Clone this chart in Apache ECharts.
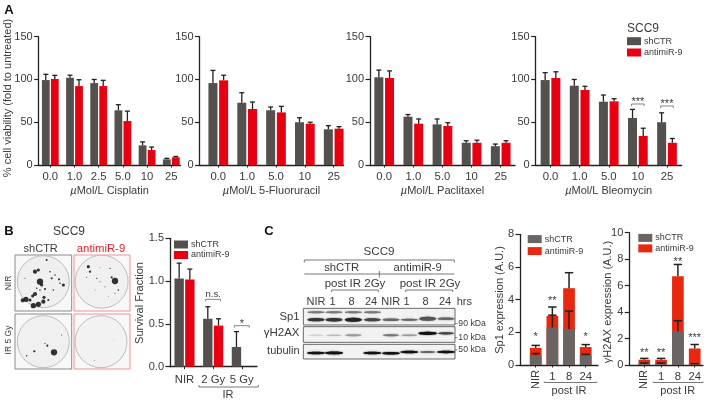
<!DOCTYPE html>
<html><head><meta charset="utf-8">
<style>html,body{margin:0;padding:0;background:#fff}#c{width:709px;height:402px}</style>
<script src="https://cdn.jsdelivr.net/npm/echarts@6/dist/echarts.min.js"></script>
</head><body><div id="c"></div>
<script>
// ---------- data ----------
const cisCats = ['0.0','1.0','2.5','5.0','10','25'];
const cisGray = [99.3,102,95.8,64,23,6.6];
const cisGrayTop = [106,105,100,70.5,27,7.8];
const cisRed = [100.5,92.3,92.3,51.4,17.5,9];
const cisRedTop = [104.8,99.7,99,63,21,10];

const fluCats = ['0.0','1.0','5.0','10','25'];
const fluGray = [95.8,72.8,64,50,41.7];
const fluGrayTop = [110.6,84.5,67.8,55.3,46];
const fluRed = [99,65.5,61.5,48.3,42.5];
const fluRedTop = [105,73.6,68.6,50,44.8];

const pacCats = ['0.0','1.0','5.0','10','25'];
const pacGray = [102.5,56.5,47.5,26,22];
const pacGrayTop = [111,59,53.8,28.4,24.5];
const pacRed = [101.7,48.3,45.6,26,26];
const pacRedTop = [110,53.8,49.5,29,28.4];

const bleCats = ['0.0','1.0','5.0','10','25'];
const bleGray = [99.3,92.7,74,55,50];
const bleGrayTop = [108,100,81.8,65,61];
const bleRed = [101.7,87.7,74.4,34,26];
const bleRedTop = [109,92,77.5,43,31];
const bleSig = [[3,71.3,'***'],[4,69,'***']];

const sfCats = ['NIR','2 Gy','5 Gy'];
const sfGray = [1.03,0.56,0.23];
const sfGrayTop = [1.21,0.70,0.41];
const sfRed = [1.02,0.48,null];
const sfRedTop = [1.14,0.56,null];
const sfSig = [[1,0.787,'n.s.'],[2,0.479,'*']];

const wbCats = ['NIR','1','8','24'];
const sp1Gray = [0.6,2.3,2.2,0.6];
const sp1GrayTop = [0.7,3.05,3.3,0.65];
const sp1Red = [1.05,3.0,4.7,1.1];
const sp1RedTop = [1.2,3.55,5.65,1.25];
const sp1Stars = [[0,1.8,'*'],[1,4.04,'**'],[3,1.8,'*']];
const h2Gray = [0.1,0.1,2.55,0.05];
const h2GrayTop = [0.15,0.15,3.35,0.1];
const h2Red = [0.4,0.4,6.7,1.25];
const h2RedTop = [0.5,0.5,7.6,1.55];
const h2Stars = [[0,1.06,'**'],[1,1.06,'**'],[2,7.93,'**'],[3,2.14,'***']];

// ---------- style ----------
const FONT = '"Liberation Sans", Arial, sans-serif';
const GRAY = '#54504d', RED = '#e60012', GRAY2 = '#6a6562', RED2 = '#e8290f';
const INK = '#3a3a3a', AX = '#222';

const grids=[], xAxes=[], yAxes=[], series=[];

function errSeries(i, means, tops, off, cap, w){
  return {type:'custom', name:'err', coordinateSystem:'cartesian2d', xAxisIndex:i, yAxisIndex:i, z:6, silent:true,
    data: means.map((m,k)=>[k,m,tops[k]]).filter(d=>d[1]!=null),
    encode:{x:0,y:1},
    renderItem(p,api){
      const a=api.coord([api.value(0),api.value(1)]), b=api.coord([api.value(0),api.value(2)]);
      const x=a[0]+off, st={stroke:AX,lineWidth:w,fill:'none'};
      return {type:'group',children:[
        {type:'line',shape:{x1:x,y1:a[1],x2:x,y2:b[1]},style:st},
        {type:'line',shape:{x1:x-cap,y1:b[1],x2:x+cap,y2:b[1]},style:st}]};
    }};
}
function sigSeries(i, items, half, size){
  return {type:'custom', name:'sig', coordinateSystem:'cartesian2d', xAxisIndex:i, yAxisIndex:i, z:7, silent:true,
    data: items, encode:{x:0,y:1},
    renderItem(p,api){
      const idx=p.dataIndex, a=api.coord([items[idx][0],items[idx][1]]), t=items[idx][2], ns=t==='n.s.';
      const kids=[{type:'text',style:{x:a[0],y:a[1]+(half?(ns?-5:-2):1.5),text:t,font:(ns?9.5:size)+'px '+FONT,fill:INK,align:'center',verticalAlign:'middle'}}];
      if(half) kids.push({type:'polyline',shape:{points:[[a[0]-half,a[1]+2],[a[0]-half,a[1]],[a[0]+half,a[1]],[a[0]+half,a[1]+2]]},style:{stroke:'#666',lineWidth:.8,fill:'none'}});
      return {type:'group',children:kids};
    }};
}
function panel(o){
  const i=grids.length, n=o.cats.length;
  const sp=(o.last-o.first)/(n-1);
  grids.push({left:o.left,top:o.top,width:o.right-o.left,height:o.bottom-o.top});
  const vals=o.cats.map((c,k)=>k);
  xAxes.push({type:'value',gridIndex:i,min:-(o.first-o.left)/sp,max:(n-1)+(o.right-o.last)/sp,
    splitLine:{show:false},
    axisLine:{show:true,onZero:false,lineStyle:{color:AX,width:1.3}},
    axisTick:{show:true,length:2.5,customValues:vals,lineStyle:{color:AX,width:1}},
    axisLabel:{show:true,customValues:vals,formatter:v=>o.hideFirst&&v===0?'':o.cats[v],color:INK,fontSize:11.3,fontFamily:FONT,margin:o.xMargin||6,hideOverlap:false,showMinLabel:true,showMaxLabel:true},
    name:o.xName||'',nameLocation:'middle',nameGap:20,
    nameTextStyle:{color:INK,fontSize:11,fontFamily:FONT,rich:{i:{fontStyle:'italic',fontSize:11,fontFamily:FONT,color:INK},n:{fontSize:11,fontFamily:FONT,color:INK}}}});
  yAxes.push({type:'value',gridIndex:i,min:0,max:o.max,interval:o.interval,
    splitLine:{show:false},
    axisLine:{show:true,onZero:false,lineStyle:{color:AX,width:1.3}},
    axisTick:{show:true,length:4.5,lineStyle:{color:AX,width:1.2}},
    axisLabel:{color:INK,fontSize:11,fontFamily:FONT,margin:6,formatter:o.yFmt}});
  const bw=o.barW, gap=o.gap;
  const mk=(name,vals,color,extra)=>Object.assign({type:'bar',name,xAxisIndex:i,yAxisIndex:i,barWidth:bw,
    data:vals.map((v,k)=>[k,v]),itemStyle:{color},silent:true,z:2},extra||{});
  if(o.overlay){
    series.push(mk('antimiR-9',o.red,o.cr,{barGap:'-100%'}));
    series.push(mk('shCTR',o.gray,o.cg,{barGap:'-100%',z:3}));
    series.push(errSeries(i,o.red,o.redTop,0,o.cap,o.errW));
    series.push(errSeries(i,o.gray,o.grayTop,0,o.cap,o.errW));
  }else{
    const g=(gap/bw*100)+'%', off=(bw+gap)/2;
    series.push(mk('shCTR',o.gray,o.cg,{barGap:g}));
    series.push(mk('antimiR-9',o.red,o.cr,{barGap:g}));
    series.push(errSeries(i,o.gray,o.grayTop,-off,o.cap,o.errW));
    series.push(errSeries(i,o.red,o.redTop,off,o.cap,o.errW));
  }
  if(o.sig) series.push(sigSeries(i,o.sig,o.sigHalf,o.sigSize||11));
}
const A={top:36.7,bottom:165,max:150,interval:50,barW:7.8,gap:1.2,cap:2.5,errW:1.3,cg:GRAY,cr:RED};
panel(Object.assign({},A,{left:38.7,right:180.5,first:50.3,last:171.3,cats:cisCats,gray:cisGray,grayTop:cisGrayTop,red:cisRed,redTop:cisRedTop,xName:'{i|µ}{n|Mol/L Cisplatin}'}));
panel(Object.assign({},A,{left:199.5,right:343.5,first:218.3,last:333.7,cats:fluCats,gray:fluGray,grayTop:fluGrayTop,red:fluRed,redTop:fluRedTop,barW:9,gap:1.7,xName:'{i|µ}{n|Mol/L 5-Fluoruracil}'}));
panel(Object.assign({},A,{left:370,right:515,first:384.2,last:500.7,cats:pacCats,gray:pacGray,grayTop:pacGrayTop,red:pacRed,redTop:pacRedTop,barW:9,gap:1.7,xName:'{i|µ}{n|Mol/L Paclitaxel}'}));
panel(Object.assign({},A,{left:535.7,right:681.7,first:550.5,last:667,cats:bleCats,gray:bleGray,grayTop:bleGrayTop,red:bleRed,redTop:bleRedTop,barW:9,gap:1.7,sig:bleSig,sigHalf:6.3,xName:'{i|µ}{n|Mol/L Bleomycin}'}));
panel({left:170,right:257,top:238.3,bottom:366.7,max:1.5,interval:0.5,first:184.5,last:241.8,cats:sfCats,gray:sfGray,grayTop:sfGrayTop,red:sfRed,redTop:sfRedTop,barW:9.4,gap:1.3,cap:2.5,errW:1.3,cg:GRAY,cr:RED,sig:sfSig,sigHalf:7.5,yFmt:v=>v.toFixed(1),xMargin:7.5});
panel({left:520,right:598,top:234.3,bottom:365,max:8,interval:2,first:535.7,last:585.7,cats:wbCats,gray:sp1Gray,grayTop:sp1GrayTop,red:sp1Red,redTop:sp1RedTop,barW:11.7,gap:0,overlay:true,cap:4.2,errW:1.5,cg:GRAY2,cr:RED2,sig:sp1Stars,hideFirst:true});
panel({left:629.3,right:703,top:232.7,bottom:365,max:10,interval:2,first:644.3,last:694.7,cats:wbCats,gray:h2Gray,grayTop:h2GrayTop,red:h2Red,redTop:h2RedTop,barW:11.7,gap:0,overlay:true,cap:4.2,errW:1.5,cg:GRAY2,cr:RED2,sig:h2Stars,hideFirst:true});

function lg(left,top,cg,cr,gap){return {left,top,orient:'vertical',itemWidth:14,itemHeight:8,itemGap:gap,selectedMode:false,padding:0,
  itemStyle:{borderWidth:0},textStyle:{fontSize:9,color:INK,fontFamily:FONT,padding:[0,0,0,-2]},
  data:[{name:'shCTR',icon:'rect',itemStyle:{color:cg}},{name:'antimiR-9',icon:'rect',itemStyle:{color:cr}}]};}
const legends=[lg(627,36.7,GRAY,RED,2.3),lg(174,240,GRAY,RED,1.5),lg(527.7,234.6,GRAY2,RED2,3),lg(638.3,233.4,GRAY2,RED2,1.5)];

// ---------- drawn annotations, photographs and blots ----------
const g=[];
const T=(text,x,y,size,o)=>g.push(Object.assign({type:'text',x,y,silent:true,z:10,style:Object.assign({text,font:((o&&o.b)?'bold ':'')+size+'px '+FONT,fill:(o&&o.c)||INK,align:(o&&o.a)||'center',verticalAlign:'middle'})},(o&&o.r)?{rotation:Math.PI/2}:{}));
const L=(pts,w,c)=>g.push({type:'polyline',silent:true,z:10,shape:{points:pts},style:{stroke:c||'#555',lineWidth:w||.8,fill:'none'}});

T('A',9,10,13,{b:1,c:'#111'}); T('B',9,231,13,{b:1,c:'#111'}); T('C',269,231,13,{b:1,c:'#111'});
T('% cell viability (fold to untreated)',8,98,11,{r:1});
T('SCC9',643,29,12);
T('Survival Fraction',140,303,11,{r:1});
T('Sp1 expression (A.U.)',500,300,11,{r:1});
T('γH2AX expression (A.U.)',608.3,302,11,{r:1});
// panel B labels
T('SCC9',69,231.7,12); T('shCTR',40.7,249.3,11); T('antimiR-9',101,249.3,11.3,{c:'#e8202a'});
T('NIR',8.3,283,8.5,{r:1}); T('IR 5 Gy',8.3,340,8.5,{r:1});
L([[199,385],[199,387],[258.3,387],[258.3,385]],.8); T('IR',228,395,11);
// C chart labels
T('NIR',535.7,379.5,11,{r:1}); T('NIR',644.3,379.5,11,{r:1});
L([[544.3,381.5],[544.3,382.5],[596.7,382.5],[596.7,381.5]],.8); T('post IR',569,390.5,11);
L([[653.3,381.5],[653.3,382.5],[703,382.5],[703,381.5]],.8); T('post IR',677.7,390.5,11);

// photographs
const Z=(zx,zy)=>[zx/3,190+zy/3];
function plate(fx,fy,fw,fh,border,cz,r,spots,fill){
  g.push({type:'rect',silent:true,z:8,shape:{x:fx,y:fy,width:fw,height:fh},style:{fill:'#f8f8f8',stroke:border,lineWidth:1}});
  const c=Z(cz[0],cz[1]);
  g.push({type:'circle',silent:true,z:8,shape:{cx:c[0],cy:c[1],r},style:{fill:fill,stroke:'#bdbdbd',lineWidth:1}});
  spots.forEach(s=>{const p=Z(s[0],s[1]);g.push({type:'circle',silent:true,z:9,shape:{cx:p[0],cy:p[1],r:s[2]/1.9},style:{fill:'#161616',opacity:.88}});});
}
plate(15,255,56.7,56,'#8a8a8a',[130,275],26,[[120,275,6],[105,245,4],[115,240,3],[105,312,4],[78,328,5],[68,331,4],[100,347,5],[115,343,5],[130,335,4],[132,322,3],[190,285,3],[177,268,2],[140,210,2],[150,245,1.5],[155,265,2],[165,255,1.5],[98,318,3],[90,330,3],[125,285,3],[135,297,2],[120,300,1.5],[180,280,1.5],[75,265,1],[160,300,1.5],[145,330,2],[110,295,1.5]],'#efefef');
plate(74,255,56,56,'#f2908f',[305,275],26.5,[[345,273,6],[265,230,3],[270,245,2.2],[335,262,2],[290,265,1.3],[300,275,1],[355,300,1.5],[330,235,1.3],[315,290,1],[260,262,1],[300,232,.8],[285,300,.8],[345,310,1],[325,320,.8]],'#f0f0f0');
plate(15,314,56.7,55,'#8a8a8a',[130,455],26,[[162,487,6],[142,467,2],[103,484,2.2],[80,497,1.4],[185,435,1],[135,460,1.1]],'#f0f0f0');
plate(74,314,56,55,'#f2908f',[303,455],26,[[283,512,.8],[340,450,.4]],'#f2f2f2');

// blot panels
const bx=(z)=>260+z/3, by=(z)=>190+z/3;
const lanes=[168,222,280,337,393,448,503,558];
function blotBox(y1,y2){g.push({type:'rect',silent:true,z:8,shape:{x:bx(130),y:by(y1),width:(585-130)/3,height:(y2-y1)/3},style:{fill:'#f2f2f2',stroke:'#444',lineWidth:.8}});}
function band(lane,zy,w,h,col,dy){const c=bx(lanes[lane]);g.push({type:'ellipse',silent:true,z:9,shape:{cx:c,cy:by(zy)+(dy||0),rx:w/2,ry:h/2},style:{fill:col,shadowBlur:1.5,shadowColor:col}});}
blotBox(355,405); blotBox(410,457); blotBox(463,507);
[0,1,2,3].forEach(k=>band(k,367,17,2,'#777'));
[[0,'#333',3.2],[1,'#333',3.5],[2,'#222',4],[3,'#444',3],[4,'#666',2.5],[5,'#666',2],[6,'#555',4],[7,'#666',2.5]].forEach(b=>band(b[0],389-(b[0]>5?3:0),17,b[2],b[1]));
[[0,'#ccc',1],[1,'#bbb',1.4],[2,'#999',2],[4,'#777',2],[5,'#999',1.6],[6,'#111',3.2],[7,'#444',2.4]].forEach(b=>band(b[0],b[0]>5?430:436,b[0]==6?19:16,b[2],b[1]));
[[0,2.5],[1,2.8],[3,2.5],[4,2.5],[5,2.6],[6,1.6],[7,2.4]].forEach(b=>band(b[0],b[0]>3?(b[0]==4?490:486):489,b[0]==6?16:18,b[1],b[0]==6?'#555':'#111'));

// blot labels
T('SCC9',379,252,11.6);
L([[304.3,262.5],[304.3,260],[454.3,260],[454.3,262.5]],.8);
T('shCTR',341.7,267.7,11.3); T('antimiR-9',417.7,267.7,11.3);
L([[304.3,274],[454.3,274]],.8); L([[379.3,271],[379.3,277.5]],.8);
T('post IR 2Gy',355,284.3,11.5); T('post IR 2Gy',430,284.3,11.5);
L([[331.7,292],[331.7,290],[378.3,290],[378.3,292]],.8); L([[405.7,292],[405.7,290],[452.7,290],[452.7,292]],.8);
[['NIR',168],['1',218],['8',275],['24',333],['NIR',392],['1',440],['8',497],['24',555],['hrs',613]].forEach(t=>T(t[0],bx(t[1]),302.3,11));
T('Sp1',299.5,316.7,11.3,{a:'right'}); T('γH2AX',299.5,333,11.5,{a:'right'}); T('tubulin',299.5,351,11,{a:'right'});
T('90 kDa',458.3,323.5,8.7,{a:'left'}); T('10 kDa',458.3,337.7,8.7,{a:'left'}); T('50 kDa',458.3,350,8.7,{a:'left'});
L([[455,323.5],[457.5,323.5]],.7); L([[455,337.7],[457.5,337.7]],.7); L([[455,350],[457.5,350]],.7);

echarts.init(document.getElementById('c'),null,{renderer:'canvas'}).setOption({
  animation:false,backgroundColor:'#fff',textStyle:{fontFamily:FONT},
  grid:grids,xAxis:xAxes,yAxis:yAxes,series,legend:legends,graphic:{elements:g}
});
</script></body></html>
